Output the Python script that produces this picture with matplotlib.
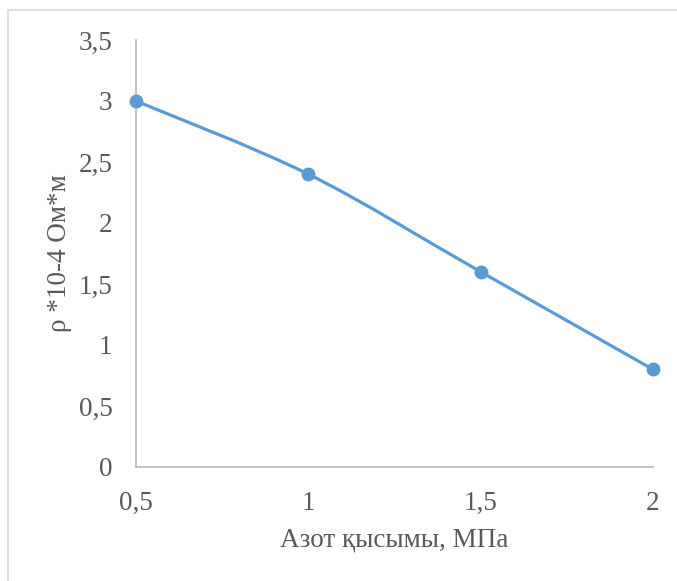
import numpy as np
import matplotlib
matplotlib.use('Agg')
import matplotlib.pyplot as plt
from matplotlib.path import Path
from matplotlib.patches import PathPatch, Rectangle

# Data
pressure = [0.5, 1.0, 1.5, 2.0]
resistivity = [3.0, 2.4, 1.6, 0.8]
x_ticks = [0.5, 1.0, 1.5, 2.0]
x_tick_labels = ['0,5', '1', '1,5', '2']
y_ticks = [0, 0.5, 1, 1.5, 2, 2.5, 3, 3.5]
y_tick_labels = ['0', '0,5', '1', '1,5', '2', '2,5', '3', '3,5']

plt.rcParams['font.family'] = ['Liberation Serif', 'DejaVu Serif']

blue = '#5B9BD5'
grey_text = '#595959'
axis_grey = '#BFBFBF'

fig = plt.figure(figsize=(6.77, 5.81), dpi=100)
ax = fig.add_axes([136 / 677, 114 / 581, (653 - 136) / 677, (467 - 40) / 581])

# Smoothed line (Excel-like Catmull-Rom through the points, as Bezier segments)
xs = np.array(pressure)
ys = np.array(resistivity)
n = len(xs)
verts = [(xs[0], ys[0])]
codes = [Path.MOVETO]
for i in range(n - 1):
    p0 = np.array([xs[max(i - 1, 0)], ys[max(i - 1, 0)]])
    p1 = np.array([xs[i], ys[i]])
    p2 = np.array([xs[i + 1], ys[i + 1]])
    p3 = np.array([xs[min(i + 2, n - 1)], ys[min(i + 2, n - 1)]])
    c1 = p1 + (p2 - p0) / 6
    c2 = p2 - (p3 - p1) / 6
    verts += [tuple(c1), tuple(c2), tuple(p2)]
    codes += [Path.CURVE4] * 3
ax.add_patch(PathPatch(Path(verts, codes), facecolor='none', edgecolor=blue,
                       lw=2.3, capstyle='round', zorder=3, clip_on=False))
ax.plot(pressure, resistivity, linestyle='none', marker='o', ms=9,
        color=blue, zorder=4, clip_on=False)

ax.set_xlim(0.5, 2.0)
ax.set_ylim(0, 3.5)
ax.set_xticks(x_ticks)
ax.set_xticklabels(x_tick_labels)
ax.set_yticks(y_ticks)
ax.set_yticklabels(y_tick_labels)
ax.tick_params(length=0, labelsize=19.5, labelcolor=grey_text)
ax.tick_params(axis='x', pad=17.5)
ax.tick_params(axis='y', pad=17)

for s in ['top', 'right']:
    ax.spines[s].set_visible(False)
for s in ['left', 'bottom']:
    ax.spines[s].set_color(axis_grey)
    ax.spines[s].set_linewidth(1.3)

ax.set_xlabel('Азот қысымы, МПа', fontsize=19.5, color=grey_text, labelpad=8)
ax.set_ylabel('ρ *10-4 Ом*м', fontsize=19.5, color=grey_text, labelpad=4.5)

# Chart area border
fig.patches.append(Rectangle((8 / 677, -0.1), 1.2, 1 - 10 / 581 + 0.1,
                             transform=fig.transFigure, fill=False,
                             edgecolor='#D9D9D9', lw=1.2))

fig.savefig('out.png', dpi=100)
